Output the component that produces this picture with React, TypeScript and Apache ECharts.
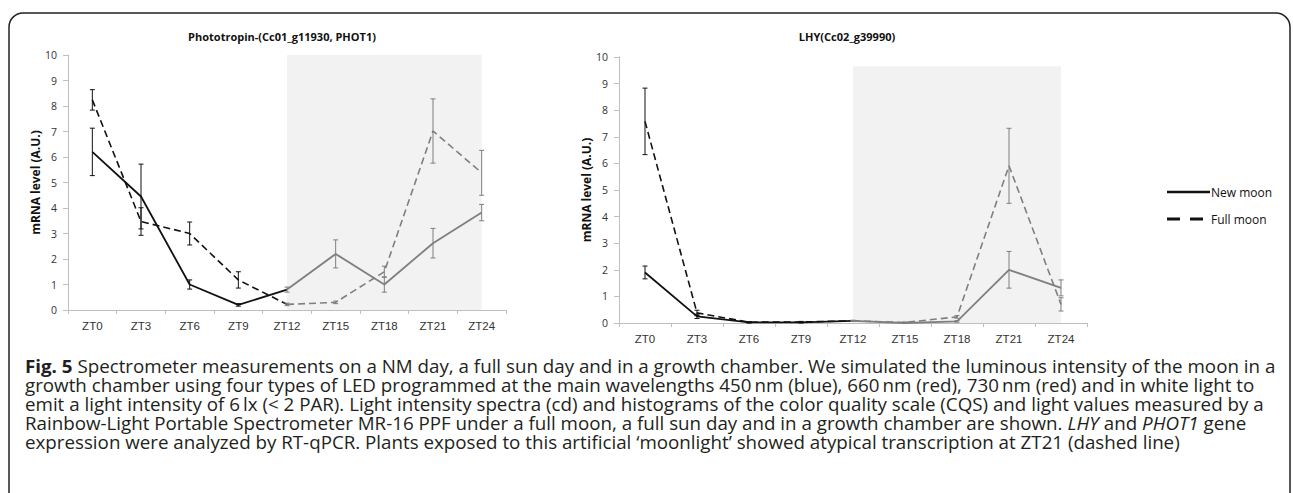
import React, { useEffect, useRef } from "react";
import * as echarts from "echarts";

const categories = ["ZT0", "ZT3", "ZT6", "ZT9", "ZT12", "ZT15", "ZT18", "ZT21", "ZT24"];
const yTicks = [0, 10, 1]; // min, max, interval

// PHOT1 (left chart)
const phot1New = [6.2, 4.45, 1.0, 0.2, 0.8, 2.2, 1.0, 2.62, 3.82];
const phot1NewErr = [0.93, 1.27, 0.18, 0.05, 0.1, 0.55, 0.3, 0.58, 0.32];
const phot1Full = [8.24, 3.47, 3.0, 1.18, 0.22, 0.3, 1.5, 7.02, 5.38];
const phot1FullErr = [0.4, 0.54, 0.45, 0.32, 0.05, 0.05, 0.22, 1.26, 0.88];
const phot1ShadeTop = 10;

// LHY (right chart)
const lhyNew = [1.9, 0.25, 0.02, 0.02, 0.08, 0.0, 0.06, 2.0, 1.32];
const lhyNewErr = [0.24, 0.08, 0.02, 0.02, 0.02, 0.02, 0.03, 0.69, 0.3];
const lhyFull = [7.58, 0.38, 0.03, 0.04, 0.08, 0.02, 0.23, 5.91, 0.7];
const lhyFullErr = [1.25, 0.1, 0.02, 0.02, 0.02, 0.02, 0.05, 1.41, 0.25];
const lhyShadeTop = 9.65;

const titles = ["Phototropin-(Cc01_g11930, PHOT1)", "LHY(Cc02_g39990)"];
const yName = "mRNA level (A.U.)";
const legendNames = ["New moon", "Full moon"];
const darkStart = 0;
const nightStart = 4; // index of ZT12

const captionLines = [
  "{b|Fig. 5} Spectrometer measurements on a NM day, a full sun day and in a growth chamber. We simulated the luminous intensity of the moon in a",
  "growth chamber using four types of LED programmed at the main wavelengths 450\u2009nm (blue), 660\u2009nm (red), 730\u2009nm (red) and in white light to",
  "emit a light intensity of 6\u2009lx (< 2 PAR). Light intensity spectra (cd) and histograms of the color quality scale (CQS) and light values measured by a",
  "Rainbow-Light Portable Spectrometer MR-16 PPF under a full moon, a full sun day and in a growth chamber are shown. {i|LHY} and {i|PHOT1} gene",
  "expression were analyzed by RT-qPCR. Plants exposed to this artificial \u2018moonlight\u2019 showed atypical transcription at ZT21 (dashed line)",
];

const BLACK = "#111111";
const GRAY = "#7f7f7f";
const FONT = "'Open Sans', sans-serif";

function part(values: number[], from: number, to: number) {
  return values.map((v, i) => (i >= from && i <= to ? v : "-"));
}

function errData(values: number[], errs: number[], from: number, to: number) {
  const out: number[][] = [];
  values.forEach((v, i) => {
    if (i >= from && i <= to) out.push([i, v - errs[i], v + errs[i]]);
  });
  return out;
}

function errorSeries(idx: number, data: number[][], color: string) {
  return {
    type: "custom",
    xAxisIndex: idx,
    yAxisIndex: idx,
    z: 4,
    silent: true,
    data,
    encode: { x: 0, y: [1, 2] },
    renderItem: (params: any, api: any) => {
      const x = api.value(0);
      const lo = api.coord([x, api.value(1)]);
      const hi = api.coord([x, api.value(2)]);
      const hw = 2.5;
      const style = { stroke: color, lineWidth: 1, fill: "none" };
      return {
        type: "group",
        children: [
          { type: "line", shape: { x1: lo[0], y1: lo[1], x2: hi[0], y2: hi[1] }, style },
          { type: "line", shape: { x1: lo[0] - hw, y1: lo[1], x2: lo[0] + hw, y2: lo[1] }, style },
          { type: "line", shape: { x1: hi[0] - hw, y1: hi[1], x2: hi[0] + hw, y2: hi[1] }, style },
        ],
      };
    },
  };
}

function lineSeries(idx: number, name: string, data: any[], color: string, dashed: boolean) {
  return {
    type: "line",
    name,
    xAxisIndex: idx,
    yAxisIndex: idx,
    data,
    z: 3,
    showSymbol: false,
    symbol: "none",
    connectNulls: false,
    silent: true,
    lineStyle: { color, width: dashed ? 1.6 : 1.8, type: dashed ? [7, 4] : "solid" },
  };
}

function chartSeries(idx: number, nv: number[], ne: number[], fv: number[], fe: number[], shadeTop: number) {
  const last = categories.length - 1;
  return [
    {
      type: "line",
      xAxisIndex: idx,
      yAxisIndex: idx,
      data: [],
      z: 1,
      silent: true,
      markArea: {
        silent: true,
        itemStyle: { color: "#f2f2f2" },
        data: [[{ xAxis: categories[nightStart], yAxis: 0 }, { xAxis: categories[last], yAxis: shadeTop }]],
      },
    },
    lineSeries(idx, legendNames[0], part(nv, darkStart, nightStart), BLACK, false),
    lineSeries(idx, legendNames[0], part(nv, nightStart, last), GRAY, false),
    lineSeries(idx, legendNames[1], part(fv, darkStart, nightStart), BLACK, true),
    lineSeries(idx, legendNames[1], part(fv, nightStart, last), GRAY, true),
    errorSeries(idx, errData(nv, ne, darkStart, nightStart - 1), BLACK),
    errorSeries(idx, errData(nv, ne, nightStart, last), GRAY),
    errorSeries(idx, errData(fv, fe, darkStart, nightStart - 1), BLACK),
    errorSeries(idx, errData(fv, fe, nightStart, last), GRAY),
  ];
}

const axisGray = "#bfbfbf";

function xAxis(idx: number) {
  return {
    type: "category",
    gridIndex: idx,
    data: categories,
    boundaryGap: true,
    axisLine: { lineStyle: { color: axisGray, width: 1 } },
    axisTick: { show: true, length: 4, lineStyle: { color: axisGray } },
    axisLabel: {
      color: "#333",
      fontSize: 11.5,
      fontFamily: "'Liberation Sans Narrow', 'Arial Narrow', 'Liberation Sans', sans-serif",
      margin: 10,
      interval: 0,
    },
    splitLine: { show: false },
  };
}

function yAxis(idx: number, gap: number) {
  return {
    type: "value",
    gridIndex: idx,
    min: yTicks[0],
    max: yTicks[1],
    interval: yTicks[2],
    name: yName,
    nameLocation: "middle",
    nameRotate: 90,
    nameGap: gap,
    nameTextStyle: { fontSize: 12, fontWeight: "bold", color: "#111", fontFamily: FONT },
    axisLine: { show: true, lineStyle: { color: axisGray, width: 1 } },
    axisTick: { show: true, length: 5, lineStyle: { color: axisGray } },
    axisLabel: { color: "#333", fontSize: 10.5, fontFamily: FONT, margin: 11 },
    splitLine: { show: false },
  };
}

export default function App() {
  const ref = useRef<HTMLDivElement>(null);
  useEffect(() => {
    if (!ref.current) return;
    const chart = echarts.init(ref.current, null, { renderer: "svg" });
    const capStyle = { fontSize: 18, fontFamily: FONT, fill: "#231f20", lineHeight: 19 };
    chart.setOption({
      animation: false,
      backgroundColor: "#ffffff",
      title: [
        {
          text: titles[0],
          left: 277,
          top: 26,
          textAlign: "center",
          textStyle: { fontSize: 11, fontWeight: "bold", color: "#111", fontFamily: FONT },
        },
        {
          text: titles[1],
          left: 842,
          top: 26,
          textAlign: "center",
          textStyle: { fontSize: 11, fontWeight: "bold", color: "#111", fontFamily: FONT },
        },
      ],
      grid: [
        { left: 68, top: 55, width: 438, height: 255, containLabel: false },
        { left: 619, top: 57, width: 468, height: 266, containLabel: false },
      ],
      xAxis: [xAxis(0), xAxis(1)],
      yAxis: [yAxis(0, 24), yAxis(1, 25)],
      series: [
        ...chartSeries(0, phot1New, phot1NewErr, phot1Full, phot1FullErr, phot1ShadeTop),
        ...chartSeries(1, lhyNew, lhyNewErr, lhyFull, lhyFullErr, lhyShadeTop),
      ],
      graphic: [
        {
          type: "rect",
          shape: { x: 9, y: 13, width: 1281, height: 600, r: 14 },
          style: { fill: "none", stroke: "#222", lineWidth: 1.5 },
          silent: true,
        },
        {
          type: "line",
          shape: { x1: 1167, y1: 192, x2: 1210, y2: 192 },
          style: { stroke: BLACK, lineWidth: 2.5 },
        },
        {
          type: "line",
          shape: { x1: 1167, y1: 219, x2: 1204, y2: 219 },
          style: { stroke: BLACK, lineWidth: 3, lineDash: [13, 10] },
        },
        {
          type: "text",
          x: 1211,
          y: 192,
          style: { text: legendNames[0], fill: "#111", fontSize: 12, fontFamily: FONT, verticalAlign: "middle" },
        },
        {
          type: "text",
          x: 1211,
          y: 219,
          style: { text: legendNames[1], fill: "#111", fontSize: 12, fontFamily: FONT, verticalAlign: "middle" },
        },
        {
          type: "text",
          x: 25,
          y: 356,
          scaleX: 1.042,
          style: {
            text: captionLines.join("\n"),
            ...capStyle,
            verticalAlign: "top",
            rich: {
              b: { ...capStyle, fontWeight: "bold" },
              i: { ...capStyle, fontStyle: "italic" },
            },
          },
        },
      ],
    });
    return () => chart.dispose();
  }, []);
  return <div ref={ref} style={{ position: "fixed", left: 0, top: 0, width: 1293, height: 493 }} />;
}
